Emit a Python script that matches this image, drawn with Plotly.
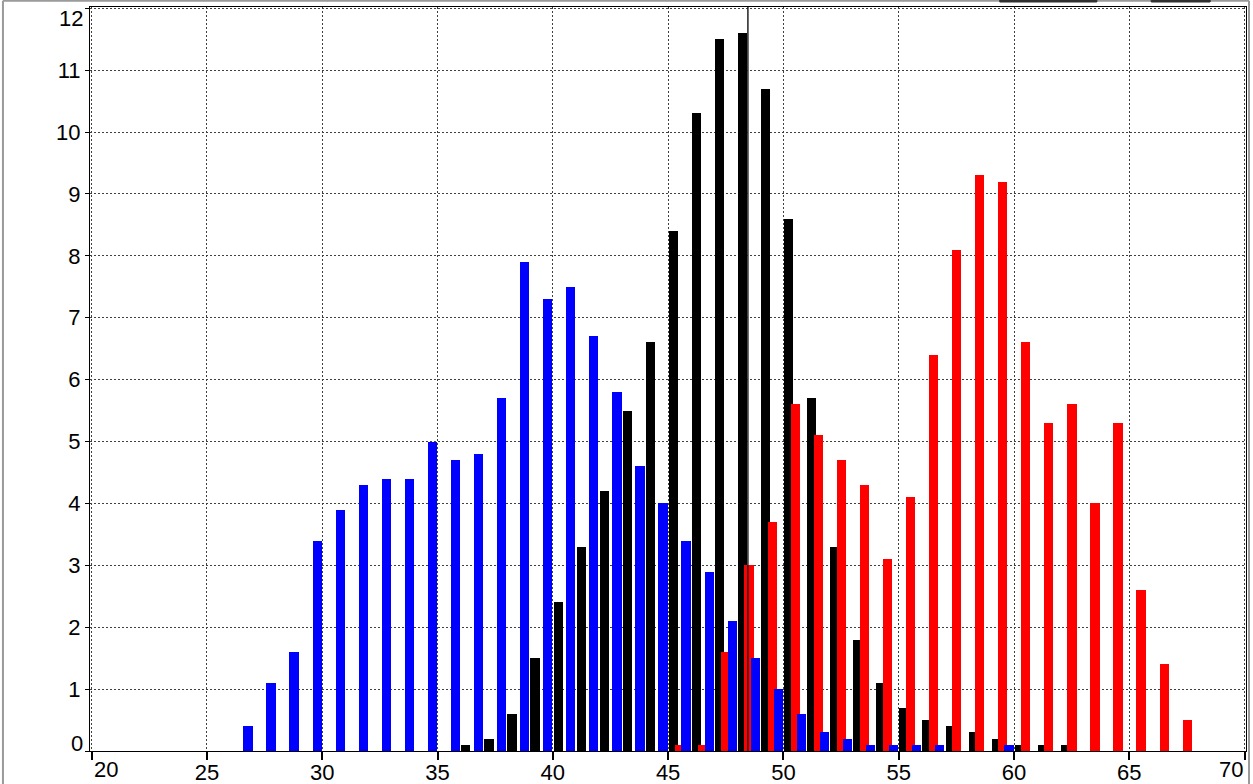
import plotly.graph_objects as go

# Histogram bins (left edge of each unit-wide class)
blue_bins = list(range(26, 60))
blue_pct = [0.4, 1.1, 1.6, 3.4, 3.9, 4.3, 4.4, 4.4, 5.0, 4.7, 4.8, 5.7, 7.9, 7.3,
            7.5, 6.7, 5.8, 4.6, 4.0, 3.4, 2.9, 2.1, 1.5, 1.0, 0.6, 0.3, 0.2, 0.1,
            0.1, 0.1, 0.1, 0.0, 0.0, 0.1]

black_bins = list(range(36, 63))
black_pct = [0.1, 0.2, 0.6, 1.5, 2.4, 3.3, 4.2, 5.5, 6.6, 8.4, 10.3, 11.5, 11.6,
             10.7, 8.6, 5.7, 3.3, 1.8, 1.1, 0.7, 0.5, 0.4, 0.3, 0.2, 0.1, 0.1, 0.1]

red_bins = list(range(45, 68))
red_pct = [0.1, 0.1, 1.6, 3.0, 3.7, 5.6, 5.1, 4.7, 4.3, 3.1, 4.1, 6.4, 8.1, 9.3,
           9.2, 6.6, 5.3, 5.6, 4.0, 5.3, 2.6, 1.4, 0.5]

marker_x = 48.46

x_ticks = list(range(20, 75, 5))
y_ticks = list(range(0, 13))

FONT = "Liberation Sans, Arial, sans-serif"
FS = 22

fig = go.Figure()
# draw order: black, red, blue (each series shifted inside its bin)
for bins, vals, color, off in [(black_bins, black_pct, "#000000", 0.03),
                               (red_bins, red_pct, "#FF0000", 0.31),
                               (blue_bins, blue_pct, "#0000FF", 0.58)]:
    fig.add_trace(go.Bar(x=bins, y=vals, offset=off, width=0.4,
                         marker=dict(color=color, line=dict(width=0)),
                         showlegend=False))

fig.add_shape(type="line", xref="x", yref="paper", x0=marker_x, x1=marker_x,
              y0=0, y1=1, line=dict(color="#222222", width=1.5), layer="above")

# outer window frame and clipped legend boxes
frame = "#9a9a9a"
fig.add_shape(type="line", xref="paper", yref="paper", x0=-0.0753, x1=1.0026,
              y0=1.0085, y1=1.0085, line=dict(color=frame, width=2))
fig.add_shape(type="line", xref="paper", yref="paper", x0=-0.0753, x1=-0.0753,
              y0=-0.06, y1=1.0085, line=dict(color=frame, width=2))
fig.add_shape(type="line", xref="paper", yref="paper", x0=1.0026, x1=1.0026,
              y0=-0.06, y1=1.0085, line=dict(color=frame, width=2))
for a, b in [(0.787, 0.871), (0.918, 0.969)]:
    fig.add_shape(type="rect", xref="paper", yref="paper", x0=a, x1=b,
                  y0=1.0067, y1=1.0105, fillcolor="#303030",
                  line=dict(color="#303030", width=1))

# edge labels kept inside the frame
lab = dict(family=FONT, size=FS, color="black")
fig.add_annotation(x=-0.004, y=12, xref="paper", yref="y", text="12", showarrow=False,
                   xanchor="right", yanchor="middle", yshift=-10, font=lab)
fig.add_annotation(x=-0.004, y=0, xref="paper", yref="y", text="0", showarrow=False,
                   xanchor="right", yanchor="middle", yshift=8, font=lab)
fig.add_annotation(x=20, y=0, xref="x", yref="paper", text="20", showarrow=False,
                   xanchor="left", yanchor="top", yshift=-4, font=lab)
fig.add_annotation(x=70, y=0, xref="x", yref="paper", text="70", showarrow=False,
                   xanchor="right", yanchor="top", yshift=-4, font=lab)

fig.update_layout(
    width=1253, height=784,
    margin=dict(l=90, r=7, t=7, b=33, autoexpand=False),
    paper_bgcolor="white", plot_bgcolor="white",
    barmode="overlay", bargap=0,
    font=dict(family=FONT, size=FS, color="black"),
    xaxis=dict(range=[19.93, 70.06], tickmode="array", tickvals=x_ticks,
               ticktext=["" if v in (20, 70) else str(v) for v in x_ticks],
               ticks="outside", ticklen=8, tickwidth=2, tickcolor="black",
               ticklabelstandoff=-6,
               showline=True, linecolor="black", linewidth=1, mirror=True,
               showgrid=True, gridcolor="#404040", gridwidth=1, griddash="2px,2px",
               zeroline=False, fixedrange=True, automargin=False),
    yaxis=dict(range=[0, 12.02], tickmode="array", tickvals=y_ticks,
               ticktext=["" if v in (0, 12) else str(v) for v in y_ticks],
               ticks="outside", ticklen=4, tickwidth=1, tickcolor="black",
               showline=True, linecolor="black", linewidth=1, mirror=True,
               showgrid=True, gridcolor="#404040", gridwidth=1, griddash="2px,2px",
               zeroline=False, fixedrange=True, automargin=False),
)

fig.write_html("out.html")
